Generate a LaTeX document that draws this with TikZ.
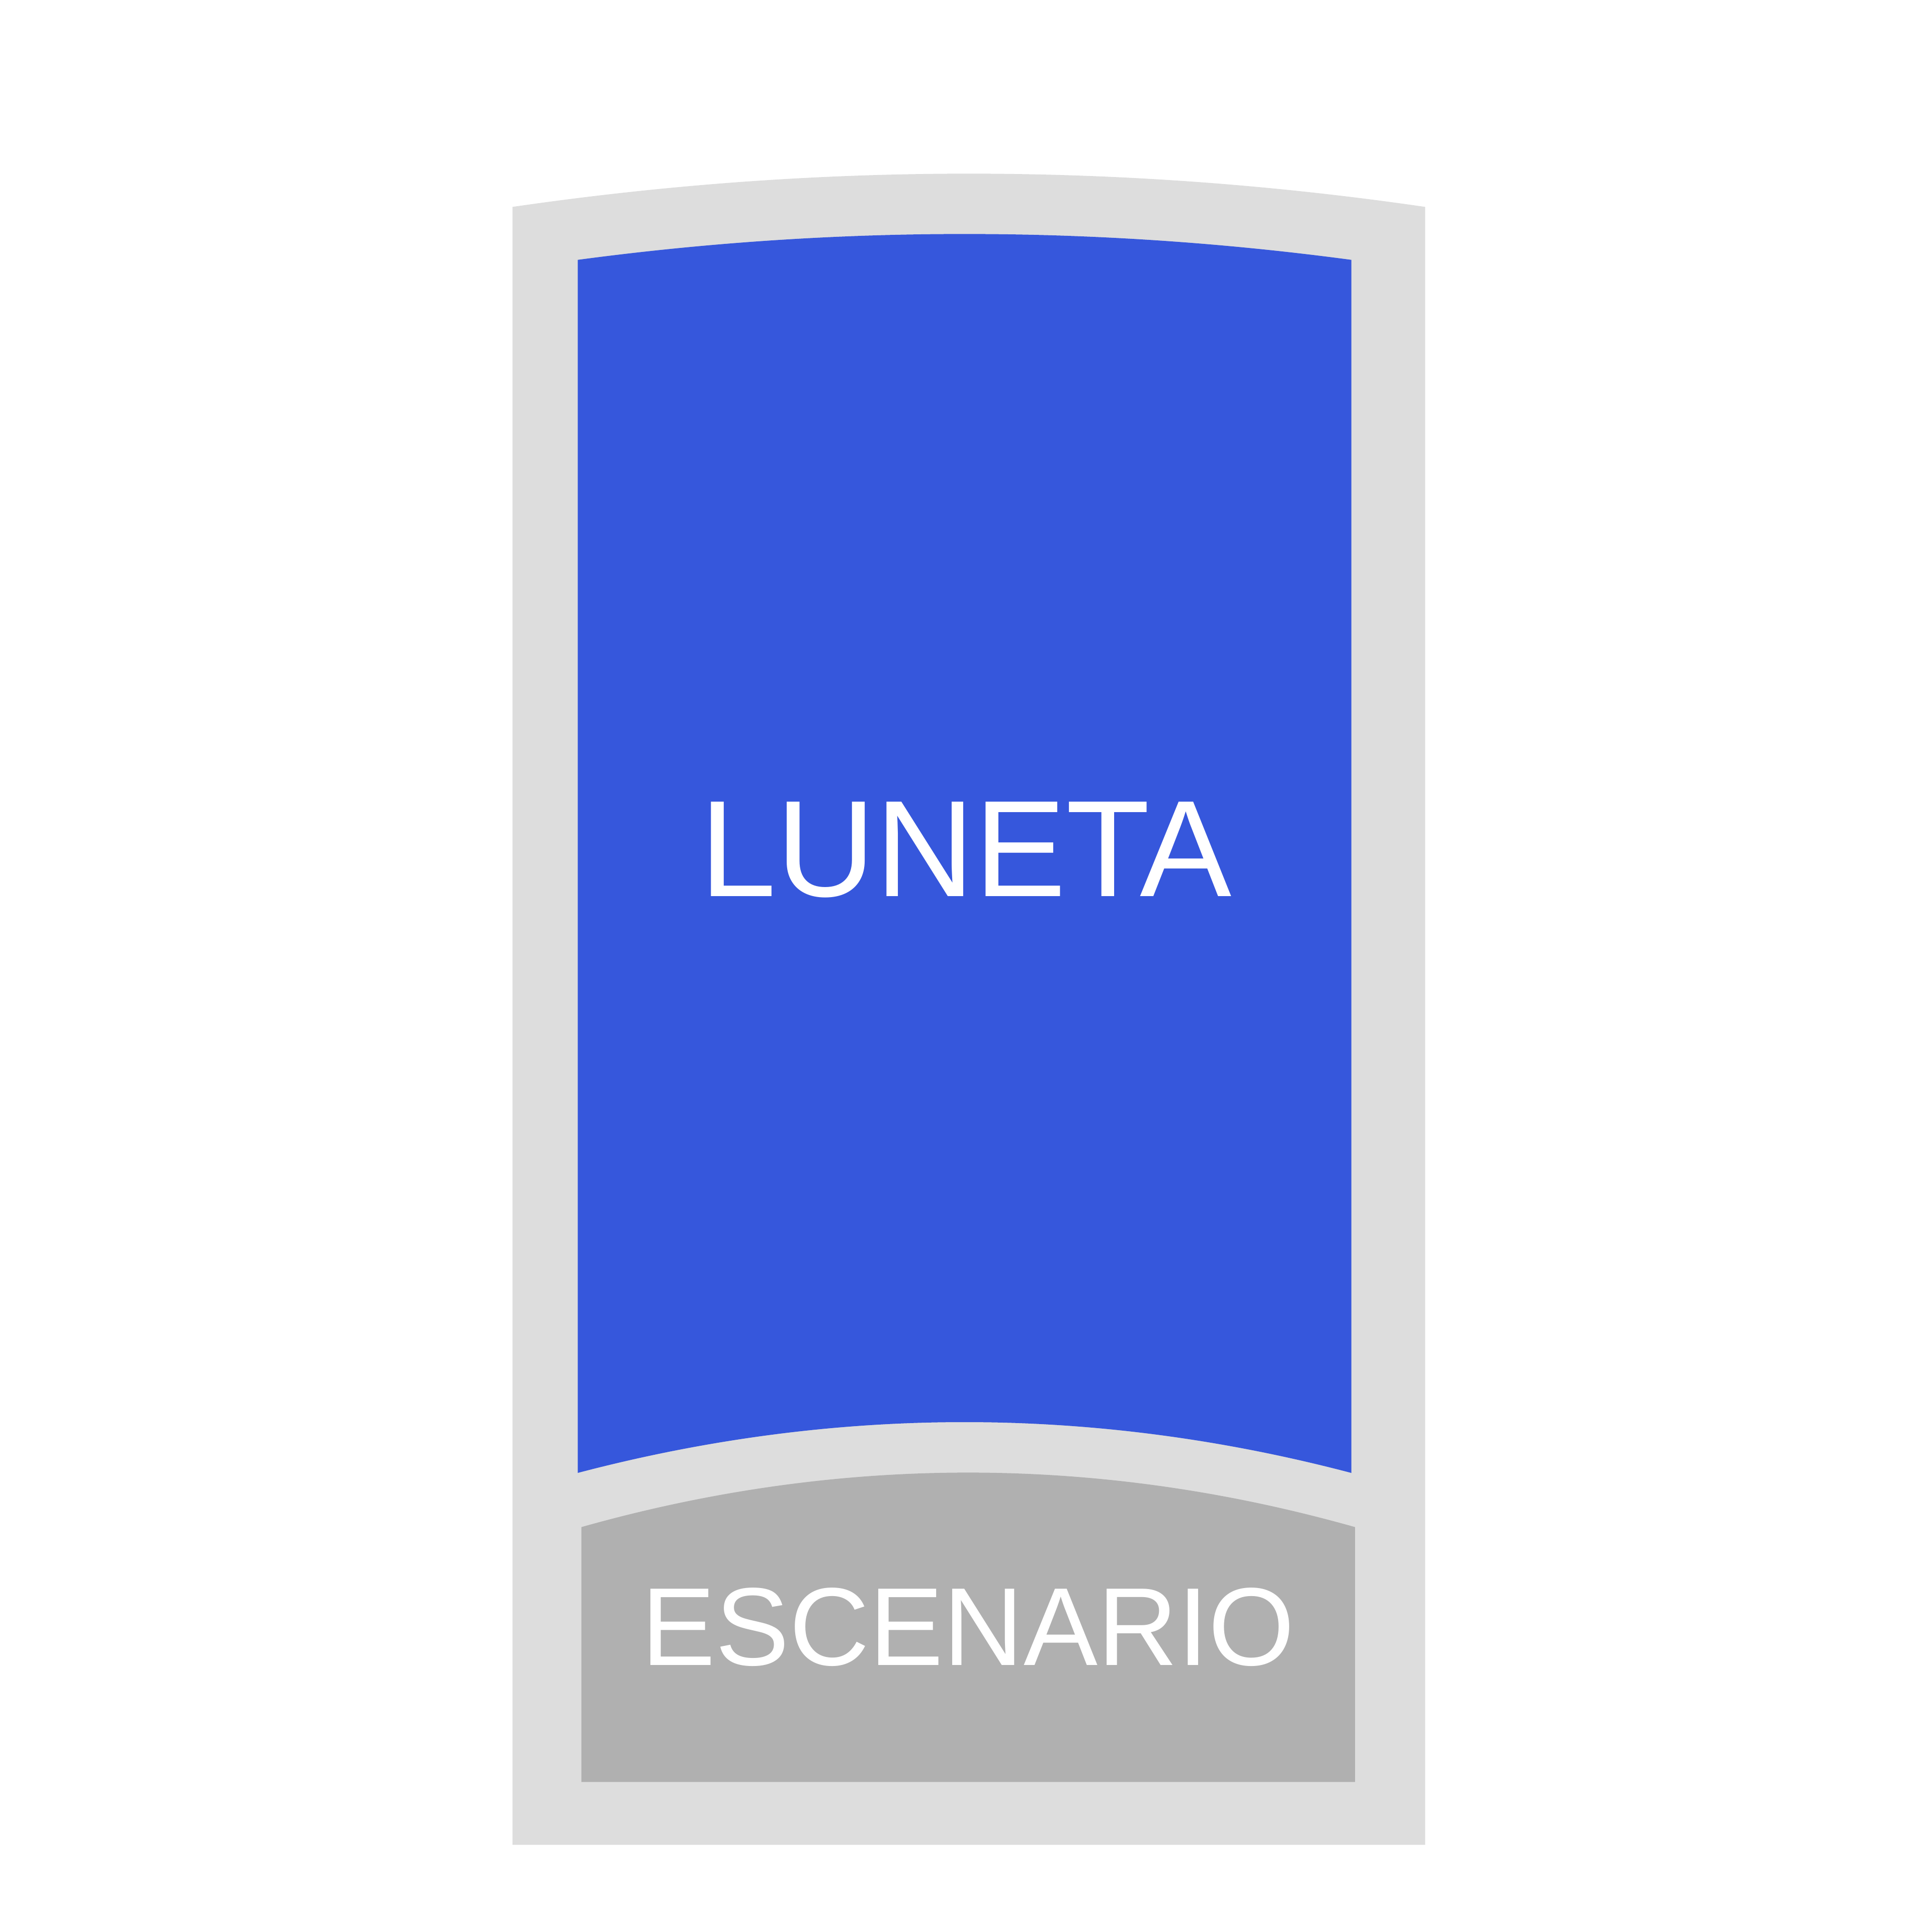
\documentclass[tikz,border=0pt]{standalone}
\usepackage{fontspec}
\setmainfont{Liberation Sans}
\definecolor{framegray}{HTML}{DDDDDD}
\definecolor{lunetablue}{HTML}{3657DC}
\definecolor{stagegray}{HTML}{B0B0B0}
\begin{document}
\begin{tikzpicture}[x=0.01cm,y=-0.01cm,
  label/.style={text=white,inner sep=0pt}]
\fill[white] (0,0) rectangle (1568,1568);
\useasboundingbox (0,0) rectangle (1568,1568);
% outer frame
\fill[framegray] (416,1498) -- (416,168)
  .. controls (663,132) and (910,132) .. (1157,168) -- (1157,1498) -- cycle;
% luneta
\fill[lunetablue] (469,1196) -- (469,211)
  .. controls (678,183) and (888,183) .. (1097,211) -- (1097,1196)
  .. controls (888,1141) and (678,1141) .. (469,1196) -- cycle;
% escenario
\fill[stagegray] (472,1447) -- (472,1240)
  .. controls (681,1181) and (891,1181) .. (1100,1240) -- (1100,1447) -- cycle;
\node[label,font=\fontsize{31.7}{38}\selectfont] (luneta) at (784,690) {LUNETA};
\node[label,font=\fontsize{25.6}{31}\selectfont] (escenario) at (786,1321) {ESCENARIO};
\end{tikzpicture}
\end{document}
